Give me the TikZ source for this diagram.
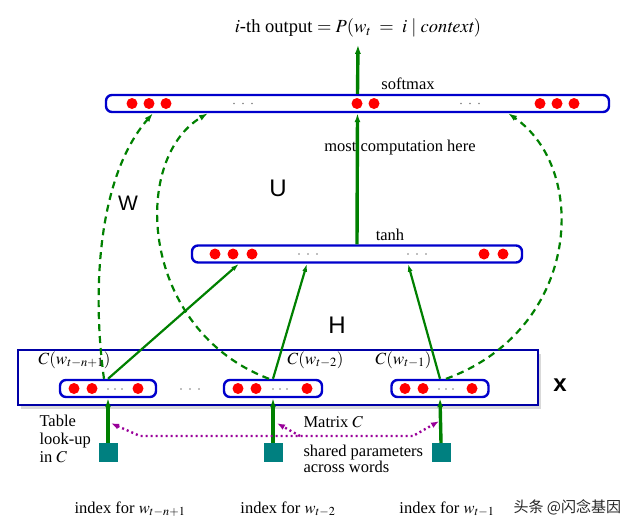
\documentclass[tikz,border=0pt]{standalone}
\usepackage{mathptmx}
\usepackage[no-math]{fontspec}
\setmainfont{Liberation Serif}
\setsansfont{Liberation Sans}
\newfontfamily\cjk{Noto Sans CJK SC}
\usetikzlibrary{arrows.meta,shadows}

\begin{document}
\begin{tikzpicture}[x=1pt,y=-1pt,
  layer/.style={draw=blue!80!black,line width=2.4pt,rounded corners=6pt,fill=white,minimum height=17pt,inner sep=0pt},
  inbox/.style={draw=blue!65!black,line width=2pt,fill=white,minimum width=520pt,minimum height=55pt,inner sep=0pt,
    drop shadow={shadow xshift=3pt,shadow yshift=-4pt,opacity=0.3}},
  flow/.style={draw=green!50!black,line width=3.4pt,-{Latex[length=9pt,width=6pt]}},
  thinflow/.style={draw=green!50!black,line width=2.2pt,-{Latex[length=8pt,width=5pt]}},
  skip/.style={draw=green!50!black,line width=2.2pt,dash pattern=on 7pt off 5pt,-{Latex[length=9pt,width=6pt]}},
  shared/.style={draw=violet!80!magenta,line width=2.4pt,dash pattern=on 2pt off 3pt},
  idx/.style={fill=teal,minimum size=19pt,inner sep=0pt},
  lbl/.style={font=\fontsize{16.5}{18}\selectfont},
  mat/.style={font=\fontsize{24}{24}\selectfont\sffamily}]

\useasboundingbox (0,0) rectangle (640,531);

% input box x
\node[inbox] (xin) at (278,377.5) {};
\node[mat,font=\fontsize{24}{24}\selectfont\sffamily\bfseries] (xlab) at (560,385) {x};

% layers
\node[layer,minimum width=503pt] (outlay) at (357.5,103.5) {};
\node[layer,minimum width=330pt] (hid) at (357,254) {};
\node[layer,minimum width=96pt] (emb1) at (108,388.5) {};
\node[layer,minimum width=98pt] (emb2) at (273,388.5) {};
\node[layer,minimum width=97pt] (emb3) at (440,388.5) {};

% units
\foreach \x in {132,149,166,357,374,540,557,574}
  \fill[red] (\x,103.5) circle[radius=5.5pt];
\foreach \x in {215,233,252,484,503}
  \fill[red] (\x,254) circle[radius=5.5pt];
\foreach \x in {74,92,138,238,256,307,405,423,472}
  \fill[red] (\x,388.5) circle[radius=5.5pt];
\foreach \x in {234,243,252,461,470,479}
  \fill[gray] (\x,103.5) circle[radius=0.9pt];
\foreach \x in {299,308,317,408,417,426}
  \fill[gray] (\x,254) circle[radius=0.9pt];
\foreach \x in {108,115,122,273,280,287,439,446,453,181,190,199}
  \fill[gray] (\x,389) circle[radius=0.9pt];

% texts
\node[font=\fontsize{18.5}{20}\selectfont] (outtxt) at (358,28) {$i$-th output $= P(w_t \;=\; i \mid \mathit{context})$};
\node[lbl] (smax) at (408,84) {softmax};
\node[lbl] (most) at (400,148) {most computation here};
\node[lbl] (tanh) at (390,235) {tanh};
\node[mat] (U) at (278,188) {U};
\node[mat,font=\fontsize{21}{21}\selectfont\sffamily] (W) at (128,203) {W};
\node[mat] (H) at (337,325) {H};
\node[font=\fontsize{17}{20}\selectfont,anchor=west] (c1) at (35,360) {$C(w_{t-n+1})$};
\node[font=\fontsize{17}{20}\selectfont,anchor=west] (c2) at (284,360) {$C(w_{t-2})$};
\node[font=\fontsize{17}{20}\selectfont,anchor=west] (c3) at (372,360) {$C(w_{t-1})$};
\node[lbl,anchor=north west,align=left] (table) at (36,412) {Table\\look-up\\in $C$};
\node[lbl,anchor=west] (matc) at (300,422) {Matrix $C$};
\node[lbl,anchor=north west,align=left,font=\fontsize{16.5}{16}\selectfont] (shpar) at (300,442) {shared parameters\\across words};

% index inputs
\node[idx] (idx1) at (108,452.5) {};
\node[idx] (idx2) at (273,452.5) {};
\node[idx] (idx3) at (441,452.5) {};
\node[lbl] (w1) at (130,509) {index for $w_{t-n+1}$};
\node[lbl] (w2) at (288,509) {index for $w_{t-2}$};
\node[lbl] (w3) at (447,509) {index for $w_{t-1}$};
\node[anchor=west,font=\cjk\fontsize{15}{17}\selectfont,text=black!85] (mark) at (510,507) {头条 @闪念基因};

% connections
\draw[flow] (outlay.north) -- ([yshift=-4pt]outtxt.south);
\draw[flow] (hid.north) -- (outlay.south);
\draw[thinflow] (emb1.north) -- ([xshift=-118pt]hid.south);
\draw[thinflow] (emb2.north) -- ([xshift=-50pt]hid.south);
\draw[thinflow] (emb3.north) -- ([xshift=51pt]hid.south);
\foreach \i in {1,2,3}
  \draw[flow] (idx\i.north) -- (emb\i.south);

\draw[skip] ([xshift=-4pt]emb1.north) .. controls (93,300) and (95,180) .. ([xshift=-204.5pt]outlay.south);
\draw[skip] ([xshift=-4pt]emb2.north) .. controls (140,330) and (130,160) .. ([xshift=-149.5pt]outlay.south);
\draw[skip] ([xshift=6pt]emb3.north) .. controls (580,330) and (590,170) .. ([xshift=150.5pt]outlay.south);

% shared parameters
\coordinate (ml) at (140,436);
\coordinate (mj) at (300,436);
\coordinate (mr) at (413,436);
\draw[shared,{Latex[length=8pt,width=6pt]}-{Latex[length=8pt,width=6pt]}] ([xshift=3pt,yshift=-25pt]emb1.south) -- (ml) -- (mr) -- ([xshift=-1pt,yshift=-23pt]emb3.south);
\draw[shared,-{Latex[length=8pt,width=6pt]}] (mj) -- ([xshift=4pt,yshift=-25pt]emb2.south);

\end{tikzpicture}
\end{document}
